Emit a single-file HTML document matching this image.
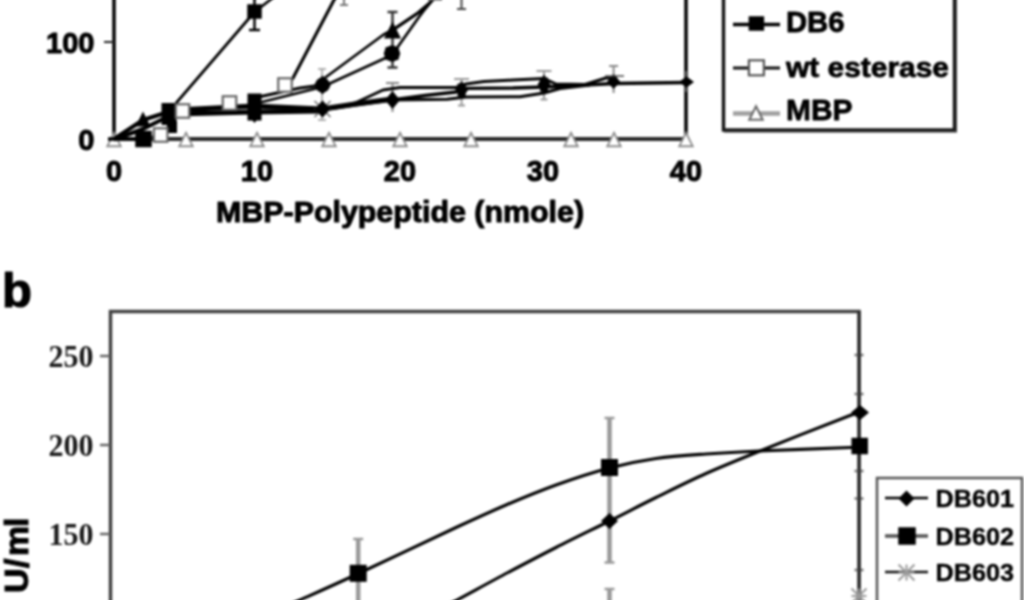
<!DOCTYPE html>
<html lang="en">
<head>
<meta charset="utf-8">
<title>Figure</title>
<style>
html,body{margin:0;padding:0;background:#fff;}
body{width:1024px;height:600px;overflow:hidden;}
svg{display:block;}
</style>
</head>
<body>
<svg width="1024" height="600" viewBox="0 0 1024 600">
<defs><filter id="soft" color-interpolation-filters="sRGB" x="-2%" y="-2%" width="104%" height="104%"><feGaussianBlur stdDeviation="0.8"/></filter></defs>
<rect x="0" y="0" width="1024" height="600" fill="#fff"/>
<g filter="url(#soft)">
<g id="chart-a">
<line x1="114" y1="-5" x2="114" y2="140" stroke="#000" stroke-width="3.5"/>
<line x1="686" y1="-5" x2="686" y2="140" stroke="#000" stroke-width="3.5"/>
<line x1="104" y1="42" x2="114" y2="42" stroke="#222" stroke-width="2"/>
<line x1="112.5" y1="139" x2="687.5" y2="139" stroke="#2a2a2a" stroke-width="4"/>
<line x1="322" y1="69" x2="322" y2="120" stroke="#999" stroke-width="1.5"/><line x1="318.0" y1="69" x2="326.0" y2="69" stroke="#999" stroke-width="1.5"/><line x1="318.0" y1="120" x2="326.0" y2="120" stroke="#999" stroke-width="1.5"/>
<line x1="392.5" y1="83" x2="392.5" y2="112" stroke="#888" stroke-width="2"/><line x1="386.0" y1="83" x2="399.0" y2="83" stroke="#888" stroke-width="2"/>
<line x1="461.6" y1="79" x2="461.6" y2="106" stroke="#999" stroke-width="2"/><line x1="454.1" y1="79" x2="469.1" y2="79" stroke="#999" stroke-width="2"/>
<line x1="458" y1="105.5" x2="465" y2="105.5" stroke="#999" stroke-width="2"/>
<line x1="544" y1="71" x2="544" y2="100" stroke="#999" stroke-width="2"/><line x1="536.5" y1="71" x2="551.5" y2="71" stroke="#999" stroke-width="2"/>
<line x1="540.5" y1="99.5" x2="547.5" y2="99.5" stroke="#999" stroke-width="2"/>
<line x1="613.6" y1="66" x2="613.6" y2="93" stroke="#888" stroke-width="2"/><line x1="609.1" y1="66" x2="618.1" y2="66" stroke="#888" stroke-width="2"/>
<line x1="686" y1="71" x2="686" y2="92" stroke="#555" stroke-width="2"/>
<line x1="344" y1="-5" x2="344" y2="5" stroke="#777" stroke-width="2"/><line x1="340.0" y1="5" x2="348.0" y2="5" stroke="#777" stroke-width="2"/>
<line x1="461.5" y1="-5" x2="461.5" y2="9" stroke="#444" stroke-width="2"/><line x1="457.0" y1="9" x2="466.0" y2="9" stroke="#444" stroke-width="2"/>
<line x1="392.5" y1="12" x2="392.5" y2="67.5" stroke="#333" stroke-width="2.5"/><line x1="387.5" y1="12" x2="397.5" y2="12" stroke="#333" stroke-width="2.5"/><line x1="387.5" y1="67.5" x2="397.5" y2="67.5" stroke="#333" stroke-width="2.5"/>
<line x1="254.5" y1="-5" x2="254.5" y2="30" stroke="#000" stroke-width="2.5"/><line x1="249.0" y1="30" x2="260.0" y2="30" stroke="#000" stroke-width="2.5"/>
<polygon points="114,132.75 120.75,146.25 107.25,146.25" fill="#fff" stroke="#8c8c8c" stroke-width="1.8" stroke-linejoin="miter"/>
<polyline points="114,139 143,120 165,113" fill="none" stroke="#000" stroke-width="4" stroke-linejoin="round"/>
<polyline points="114,139.5 143,129 165,118" fill="none" stroke="#000" stroke-width="4" stroke-linejoin="round"/>
<polyline points="108,139 143,139" fill="none" stroke="#000" stroke-width="3.5" stroke-linejoin="round"/>
<polyline points="143,139 160,135 169,126" fill="none" stroke="#333" stroke-width="2.5" stroke-linejoin="round"/>
<polyline points="176,110 254,106 322,109" fill="none" stroke="#000" stroke-width="5" stroke-linejoin="round"/>
<polyline points="176,114 254,112 322,111" fill="none" stroke="#000" stroke-width="5" stroke-linejoin="round"/>
<polyline points="254,98 300,88 322,85" fill="none" stroke="#000" stroke-width="3" stroke-linejoin="round"/>
<polyline points="254,104 322,87" fill="none" stroke="#000" stroke-width="2.5" stroke-linejoin="round"/>
<polyline points="322,109 355,104 392,99" fill="none" stroke="#000" stroke-width="5" stroke-linejoin="round"/>
<polyline points="340,107 355,103 383,90 400,87.5 456,87.5 466,84 484,81.6 513,80 544,78.6 556,84 585,84.5 606,78 614,78" fill="none" stroke="#000" stroke-width="3" stroke-linejoin="round"/>
<polyline points="322,110 355,105 392,100 425,95.5 456,92 466,88.3 513,88 544,87 585,85 614,83.5 686,82.5" fill="none" stroke="#000" stroke-width="3.3" stroke-linejoin="round"/>
<polyline points="392,100 447,99.3 466,97 520,96.7 544,93 560,88.5 573,87 590,85" fill="none" stroke="#000" stroke-width="3" stroke-linejoin="round"/>
<polyline points="322,80 383,35 392,30 418,12.5 434,-1" fill="none" stroke="#000" stroke-width="2.7" stroke-linejoin="round"/>
<polyline points="322,87 392,55 419,17 432,0" fill="none" stroke="#000" stroke-width="2.7" stroke-linejoin="round"/>
<polyline points="392,31 426,8 433,0" fill="none" stroke="#000" stroke-width="2.5" stroke-linejoin="round"/>
<rect x="429.0" y="-12.5" width="12" height="12" fill="#fff" stroke="#666" stroke-width="2"/>
<polyline points="169,112 176.6,102.5 254.5,12 270,0 276,-5" fill="none" stroke="#000" stroke-width="2.7" stroke-linejoin="round"/>
<polyline points="285,88 293,78 334,0 337,-5" fill="none" stroke="#000" stroke-width="3.1" stroke-linejoin="round"/>
<polygon points="143,111.5 150.5,126.5 135.5,126.5" fill="#000" stroke="none" stroke-width="0" stroke-linejoin="miter"/>
<rect x="161.5" y="103.0" width="15" height="22" fill="#000"/>
<rect x="167.0" y="121.0" width="10" height="12" fill="#000"/>
<rect x="247.5" y="93.5" width="14" height="27" fill="#000"/>
<polygon points="254.5,105.0 261.5,114 254.5,123.0 247.5,114" fill="#000"/>
<circle cx="322.5" cy="85" r="7.5" fill="#000"/>
<polygon points="322.5,75.5 331.0,85 322.5,94.5 314.0,85" fill="#000"/>
<g stroke="#666" stroke-width="1.5" fill="none"><line x1="314.5" y1="101.0" x2="330.5" y2="117.0"/><line x1="314.5" y1="117.0" x2="330.5" y2="101.0"/><line x1="322.5" y1="101.0" x2="322.5" y2="117.0"/><line x1="314.5" y1="109" x2="330.5" y2="109"/></g>
<polygon points="322.5,100.5 330.5,109 322.5,117.5 314.5,109" fill="#000"/>
<polygon points="392.5,21.5 401.0,38.5 384.0,38.5" fill="#000" stroke="none" stroke-width="0" stroke-linejoin="miter"/>
<circle cx="392" cy="53.5" r="8.0" fill="#000"/>
<polygon points="392,45.0 400.5,53.5 392,62.0 383.5,53.5" fill="#000"/>
<rect x="385.5" y="47.0" width="13" height="13" fill="#000"/>
<polygon points="392.5,91.0 400.0,100 392.5,109.0 385.0,100" fill="#000"/>
<rect x="457.6" y="83.5" width="8" height="13" fill="#000"/>
<polygon points="461.6,81.0 468.1,90 461.6,99.0 455.1,90" fill="#000"/>
<rect x="540.0" y="77.5" width="8" height="14" fill="#000"/>
<polygon points="544,74.5 550.5,84.5 544,94.5 537.5,84.5" fill="#000"/>
<rect x="610.1" y="77.0" width="7" height="9" fill="#000"/>
<polygon points="613.6,74.0 620.1,81.5 613.6,89.0 607.1,81.5" fill="#000"/>
<line x1="605" y1="76" x2="624" y2="76" stroke="#444" stroke-width="1.5"/>
<polygon points="686.5,76.5 694.0,82 686.5,87.5 679.0,82" fill="#000"/>
<rect x="136.0" y="131.5" width="15" height="15" fill="#000" stroke="#000" stroke-width="1.5"/>
<rect x="248.0" y="5.0" width="13" height="13" fill="#000" stroke="#000" stroke-width="1.5"/>
<rect x="153.95" y="128.25" width="13.5" height="13.5" fill="#fff" stroke="#666" stroke-width="2.2"/>
<rect x="175.75" y="104.25" width="13.5" height="13.5" fill="#fff" stroke="#666" stroke-width="2.2"/>
<rect x="222.75" y="96.25" width="13.5" height="13.5" fill="#fff" stroke="#666" stroke-width="2.2"/>
<rect x="278.25" y="78.25" width="13.5" height="13.5" fill="#fff" stroke="#666" stroke-width="2.2"/>
<polygon points="186,132.75 192.75,146.25 179.25,146.25" fill="#fff" stroke="#8c8c8c" stroke-width="1.8" stroke-linejoin="miter"/>
<polygon points="257,132.75 263.75,146.25 250.25,146.25" fill="#fff" stroke="#8c8c8c" stroke-width="1.8" stroke-linejoin="miter"/>
<polygon points="329,132.75 335.75,146.25 322.25,146.25" fill="#fff" stroke="#8c8c8c" stroke-width="1.8" stroke-linejoin="miter"/>
<polygon points="400,132.75 406.75,146.25 393.25,146.25" fill="#fff" stroke="#8c8c8c" stroke-width="1.8" stroke-linejoin="miter"/>
<polygon points="471,132.75 477.75,146.25 464.25,146.25" fill="#fff" stroke="#8c8c8c" stroke-width="1.8" stroke-linejoin="miter"/>
<polygon points="571,132.75 577.75,146.25 564.25,146.25" fill="#fff" stroke="#8c8c8c" stroke-width="1.8" stroke-linejoin="miter"/>
<polygon points="614,132.75 620.75,146.25 607.25,146.25" fill="#fff" stroke="#8c8c8c" stroke-width="1.8" stroke-linejoin="miter"/>
<polygon points="686,132.75 692.75,146.25 679.25,146.25" fill="#fff" stroke="#8c8c8c" stroke-width="1.8" stroke-linejoin="miter"/>
<text x="94.5" y="52.9" font-family='"Liberation Sans", Arial, sans-serif' font-size="30" font-weight="bold" text-anchor="end" fill="#000" stroke="#000" stroke-width="1.0" stroke-linejoin="round" textLength="48.5" lengthAdjust="spacingAndGlyphs">100</text>
<text x="94.5" y="150" font-family='"Liberation Sans", Arial, sans-serif' font-size="30" font-weight="bold" text-anchor="end" fill="#000" stroke="#000" stroke-width="1.0" stroke-linejoin="round" textLength="16.2" lengthAdjust="spacingAndGlyphs">0</text>
<text x="114" y="181" font-family='"Liberation Sans", Arial, sans-serif' font-size="29" font-weight="bold" text-anchor="middle" fill="#000" stroke="#000" stroke-width="1.0" stroke-linejoin="round">0</text>
<text x="257" y="181" font-family='"Liberation Sans", Arial, sans-serif' font-size="29" font-weight="bold" text-anchor="middle" fill="#000" stroke="#000" stroke-width="1.0" stroke-linejoin="round">10</text>
<text x="400" y="181" font-family='"Liberation Sans", Arial, sans-serif' font-size="29" font-weight="bold" text-anchor="middle" fill="#000" stroke="#000" stroke-width="1.0" stroke-linejoin="round">20</text>
<text x="543" y="181" font-family='"Liberation Sans", Arial, sans-serif' font-size="29" font-weight="bold" text-anchor="middle" fill="#000" stroke="#000" stroke-width="1.0" stroke-linejoin="round">30</text>
<text x="686" y="181" font-family='"Liberation Sans", Arial, sans-serif' font-size="29" font-weight="bold" text-anchor="middle" fill="#000" stroke="#000" stroke-width="1.0" stroke-linejoin="round">40</text>
<text x="400" y="221.5" font-family='"Liberation Sans", Arial, sans-serif' font-size="29" font-weight="bold" text-anchor="middle" fill="#000" stroke="#000" stroke-width="1.0" stroke-linejoin="round" textLength="368" lengthAdjust="spacingAndGlyphs">MBP-Polypeptide (nmole)</text>
<rect x="723.5" y="-10" width="231" height="140" fill="none" stroke="#111" stroke-width="3.4"/>
<line x1="724" y1="131.5" x2="957" y2="131.5" stroke="#333" stroke-width="2"/>
<line x1="956" y1="-5" x2="956" y2="132" stroke="#333" stroke-width="2"/>
<line x1="733" y1="24.5" x2="780" y2="24.5" stroke="#000" stroke-width="3.3"/>
<rect x="748.65" y="16.25" width="15.5" height="14.5" fill="#000"/>
<line x1="733" y1="68" x2="780" y2="68" stroke="#111" stroke-width="3"/>
<rect x="748.9" y="60.3" width="15" height="15" fill="#fff" stroke="#555" stroke-width="2.2"/>
<line x1="733" y1="113.4" x2="780" y2="113.4" stroke="#a0a0a0" stroke-width="4.5"/>
<polygon points="756,106.25 762.75,119.75 749.25,119.75" fill="#fff" stroke="#666" stroke-width="2" stroke-linejoin="miter"/>
<text x="786" y="32.2" font-family='"Liberation Sans", Arial, sans-serif' font-size="29.5" font-weight="bold" text-anchor="start" fill="#000" stroke="#000" stroke-width="0.8" stroke-linejoin="round" textLength="58.5" lengthAdjust="spacingAndGlyphs">DB6</text>
<text x="786" y="76.7" font-family='"Liberation Sans", Arial, sans-serif' font-size="28.5" font-weight="bold" text-anchor="start" fill="#000" stroke="#000" stroke-width="0.8" stroke-linejoin="round" textLength="163" lengthAdjust="spacingAndGlyphs">wt esterase</text>
<text x="786" y="119.8" font-family='"Liberation Sans", Arial, sans-serif' font-size="29.5" font-weight="bold" text-anchor="start" fill="#000" stroke="#000" stroke-width="0.8" stroke-linejoin="round" textLength="66.5" lengthAdjust="spacingAndGlyphs">MBP</text>
</g>
<text x="2" y="307" font-family='"Liberation Sans", Arial, sans-serif' font-size="49" font-weight="bold" text-anchor="start" fill="#000" stroke="#000" stroke-width="1.2" stroke-linejoin="round">b</text>
<g id="chart-b">
<rect x="110.5" y="311.5" width="748.5" height="400" fill="none" stroke="#404040" stroke-width="3.5"/>
<line x1="100" y1="356" x2="110" y2="356" stroke="#666" stroke-width="2.5"/>
<line x1="100" y1="445" x2="110" y2="445" stroke="#666" stroke-width="2.5"/>
<line x1="100" y1="534" x2="110" y2="534" stroke="#666" stroke-width="2.5"/>
<text x="48.5" y="366.7" font-family='"Liberation Serif", "Times New Roman", serif' font-size="31" font-weight="bold" text-anchor="start" fill="#1a1a1a" stroke="#1a1a1a" stroke-width="0" stroke-linejoin="round" textLength="45" lengthAdjust="spacingAndGlyphs">250</text>
<text x="48.5" y="455.7" font-family='"Liberation Serif", "Times New Roman", serif' font-size="31" font-weight="bold" text-anchor="start" fill="#1a1a1a" stroke="#1a1a1a" stroke-width="0" stroke-linejoin="round" textLength="45" lengthAdjust="spacingAndGlyphs">200</text>
<text x="48.5" y="544.7" font-family='"Liberation Serif", "Times New Roman", serif' font-size="31" font-weight="bold" text-anchor="start" fill="#1a1a1a" stroke="#1a1a1a" stroke-width="0" stroke-linejoin="round" textLength="45" lengthAdjust="spacingAndGlyphs">150</text>
<text x="0 25 37 66" y="0" font-family='"Liberation Sans", Arial, sans-serif' font-size="34" font-weight="bold" fill="#000" stroke="#000" stroke-width="1" transform="translate(28,593) rotate(-90)">U/ml</text>
<line x1="358.2" y1="539" x2="358.2" y2="610" stroke="#999" stroke-width="4.5"/><line x1="353.2" y1="539" x2="363.2" y2="539" stroke="#999" stroke-width="2.5"/>
<line x1="609.5" y1="418" x2="609.5" y2="562.5" stroke="#999" stroke-width="4.5"/><line x1="604.5" y1="418" x2="614.5" y2="418" stroke="#999" stroke-width="2.5"/><line x1="604.5" y1="562.5" x2="614.5" y2="562.5" stroke="#999" stroke-width="2.5"/>
<line x1="609.5" y1="589" x2="609.5" y2="610" stroke="#999" stroke-width="4.5"/><line x1="604.5" y1="589" x2="614.5" y2="589" stroke="#999" stroke-width="2.5"/>
<line x1="859" y1="355" x2="859" y2="471" stroke="#777" stroke-width="2"/><line x1="854.5" y1="355" x2="863.5" y2="355" stroke="#777" stroke-width="2.5"/><line x1="854.5" y1="471" x2="863.5" y2="471" stroke="#777" stroke-width="2.5"/>
<line x1="859" y1="394" x2="859" y2="498.5" stroke="#777" stroke-width="2"/><line x1="854.5" y1="394" x2="863.5" y2="394" stroke="#777" stroke-width="2.5"/><line x1="854.5" y1="498.5" x2="863.5" y2="498.5" stroke="#777" stroke-width="2.5"/>
<line x1="859" y1="570" x2="859" y2="610" stroke="#777" stroke-width="2"/><line x1="854.5" y1="570" x2="863.5" y2="570" stroke="#777" stroke-width="2.5"/>
<line x1="859.2" y1="311" x2="859.2" y2="605" stroke="#2a2a2a" stroke-width="3"/>
<path d="M 289 605 C 290.8 604.2, 288.4 605.2, 300 600 C 311.6 594.8, 332.5 585.6, 358.5 573.5 C 384.5 561.4, 431.4 538.9, 456 527.5 C 480.6 516.1, 489.3 512.1, 506 505 C 522.7 497.9, 538.8 491.2, 556 485 C 573.2 478.8, 592.8 472.4, 609.5 468 C 626.2 463.6, 639.9 460.8, 656 458.5 C 672.1 456.2, 688.9 455.2, 706 454 C 723.1 452.8, 734.5 452.1, 758.5 451 C 782.5 449.9, 833.1 448.2, 850 447.5 C 866.9 446.8, 858.3 446.7, 860 446.5" fill="none" stroke="#000" stroke-width="3.1"/>
<path d="M 447 605 C 448.7 604.2, 446.8 605.4, 457 600 C 467.2 594.6, 491.5 581.2, 508 572.5 C 524.5 563.8, 539.1 556.1, 556 547.5 C 572.9 538.9, 592.8 529.3, 609.5 521 C 626.2 512.7, 639.9 505.4, 656 497.5 C 672.1 489.6, 688.7 481.2, 706 473.5 C 723.3 465.8, 736.0 460.7, 760 451 C 784.0 441.3, 833.3 421.9, 850 415.5 C 866.7 409.1, 858.3 413.0, 860 412.5" fill="none" stroke="#000" stroke-width="3.1"/>
<rect x="350.45" y="565.55" width="15.5" height="15.5" fill="#000" stroke="#000" stroke-width="1.5"/>
<rect x="601.75" y="459.75" width="15.5" height="15.5" fill="#000" stroke="#000" stroke-width="1.5"/>
<rect x="852.2" y="438.5" width="15" height="15" fill="#000" stroke="#000" stroke-width="1.5"/>
<polygon points="609.5,513.0 618.0,521 609.5,529.0 601.0,521" fill="#000"/>
<polygon points="860,405.0 869.0,412.5 860,420.0 851.0,412.5" fill="#000"/>
<g stroke="#999" stroke-width="2" fill="none"><line x1="851.5" y1="588.5" x2="866.5" y2="603.5"/><line x1="851.5" y1="603.5" x2="866.5" y2="588.5"/><line x1="859" y1="588.5" x2="859" y2="603.5"/><line x1="851.5" y1="596" x2="866.5" y2="596"/></g>
<rect x="877" y="478" width="145" height="140" fill="none" stroke="#555" stroke-width="2.5"/>
<line x1="885" y1="498" x2="928" y2="498" stroke="#000" stroke-width="2.5"/>
<polygon points="906.5,490.5 914.5,498.5 906.5,506.5 898.5,498.5" fill="#000"/>
<line x1="885" y1="536" x2="928" y2="536" stroke="#555" stroke-width="3.5"/>
<rect x="899.0" y="528.0" width="16" height="16" fill="#000" stroke="#000" stroke-width="1.5"/>
<line x1="885" y1="572" x2="928" y2="572" stroke="#111" stroke-width="2.5"/>
<g stroke="#999" stroke-width="2" fill="none"><line x1="898.5" y1="564.5" x2="914.5" y2="580.5"/><line x1="898.5" y1="580.5" x2="914.5" y2="564.5"/><line x1="906.5" y1="564.5" x2="906.5" y2="580.5"/><line x1="898.5" y1="572.5" x2="914.5" y2="572.5"/></g>
<text x="935.5" y="506.5" font-family='"Liberation Sans", Arial, sans-serif' font-size="24.5" font-weight="bold" text-anchor="start" fill="#000" stroke="#000" stroke-width="0.4" stroke-linejoin="round" textLength="78.5" lengthAdjust="spacingAndGlyphs">DB601</text>
<text x="935.5" y="544.5" font-family='"Liberation Sans", Arial, sans-serif' font-size="24.5" font-weight="bold" text-anchor="start" fill="#000" stroke="#000" stroke-width="0.4" stroke-linejoin="round" textLength="78.5" lengthAdjust="spacingAndGlyphs">DB602</text>
<text x="935.5" y="580.5" font-family='"Liberation Sans", Arial, sans-serif' font-size="24.5" font-weight="bold" text-anchor="start" fill="#000" stroke="#000" stroke-width="0.4" stroke-linejoin="round" textLength="78.5" lengthAdjust="spacingAndGlyphs">DB603</text>
</g>
</g>
</svg>
</body>
</html>
